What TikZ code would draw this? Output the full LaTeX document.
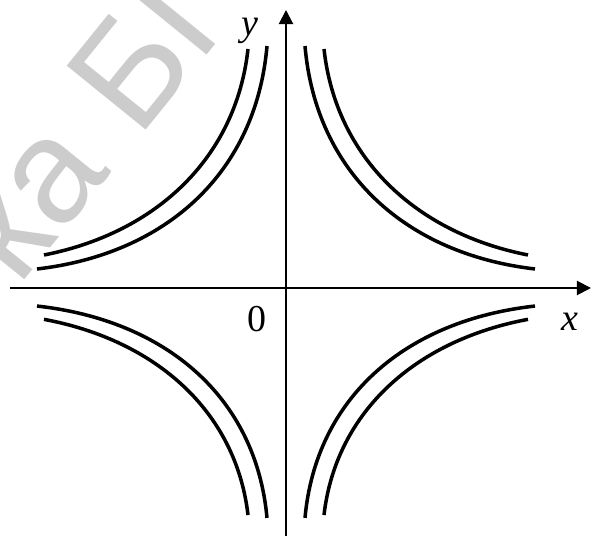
\documentclass[tikz,border=0pt]{standalone}
\usepackage{fontspec}
\setmainfont{Liberation Serif}
\newfontfamily\stampfont{Liberation Sans}
\usetikzlibrary{arrows.meta}

\begin{document}
\begin{tikzpicture}[x=0.025cm, y=0.025cm,
  axis/.style={line width=1.4pt, -{Triangle[length=10pt, width=10pt]}},
  branch/.style={line width=2.5pt},
  lbl/.style={font=\fontsize{27}{30}\selectfont, inner sep=0pt},
  stamp/.style={font=\stampfont\fontsize{105}{110}\selectfont, text=black!20, inner sep=0pt}]
\useasboundingbox (-286,-248) rectangle (306,288);
% faint stamp behind the picture
\begin{scope}
  \clip (-286,-248) rectangle (306,288);
  \node[stamp, rotate=51, anchor=base west] (stamptext) at (-268,0) {ка БГУ};
\end{scope}
% axes
\coordinate (xfrom) at (-276,0);
\coordinate (xto) at (305,0);
\coordinate (yfrom) at (0,-248);
\coordinate (yto) at (0,278);
\draw[axis] (xfrom) -- (xto);
\draw[axis] (yfrom) -- (yto);
\node[lbl] (zero) at (-29,-31) {0};
\node[lbl] (xlab) at (284,-34) {\textit{x}};
\node[lbl] (ylab) at (-36,257) {\textit{y}};
% two branches in each quadrant
\foreach \sx/\sy in {1/1, -1/1, 1/-0.95, -1/-0.95}{
  \begin{scope}[xscale=\sx, yscale=\sy]
    \draw[branch] (-242,33) .. controls (-130,55) and (-50,130) .. (-38,239);
    \draw[branch] (-249,19) .. controls (-120,34) and (-30,115) .. (-19,242);
  \end{scope}
}
\end{tikzpicture}
\end{document}
